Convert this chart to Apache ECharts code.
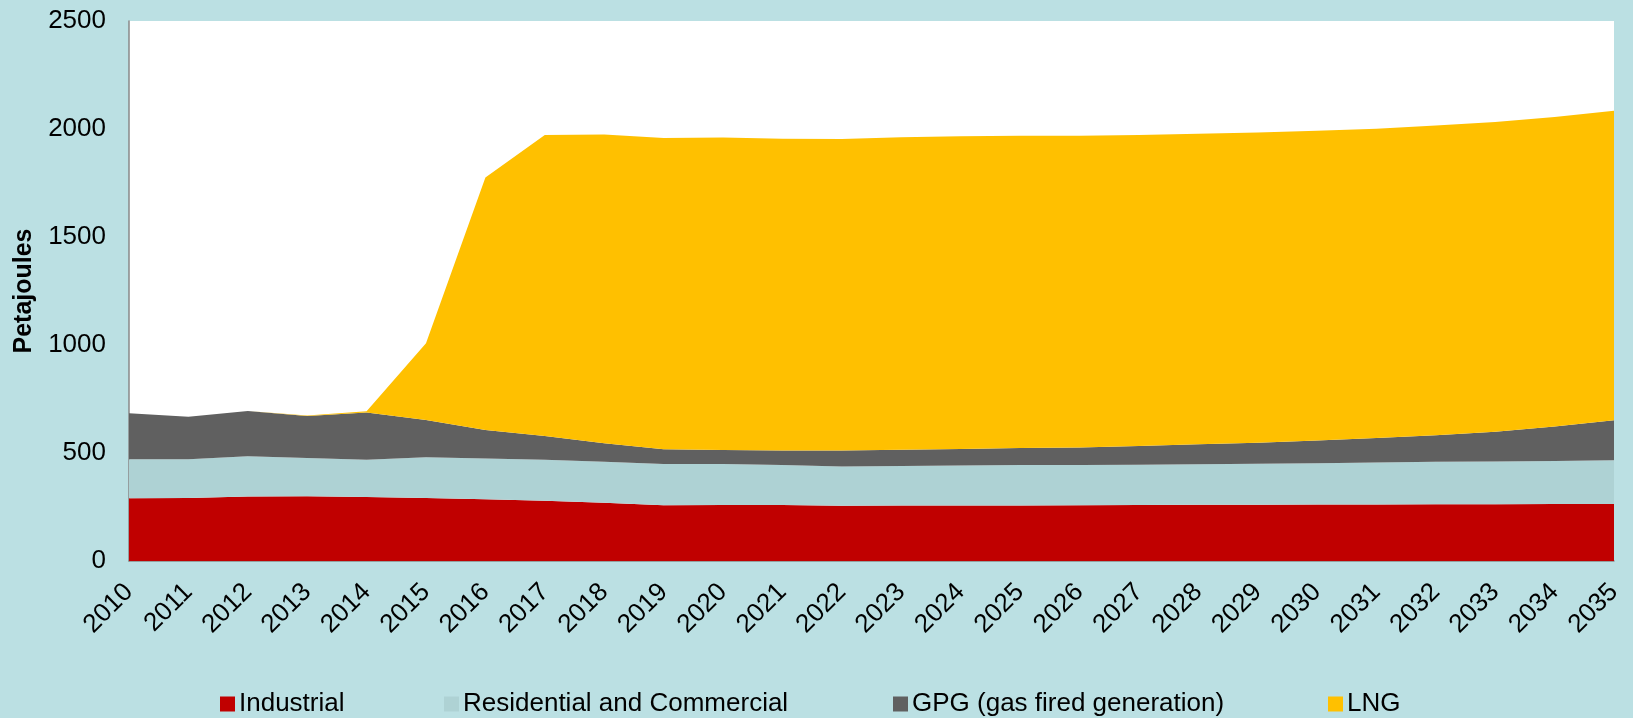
<!DOCTYPE html>
<html>
<head>
<meta charset="utf-8">
<script src="https://cdn.jsdelivr.net/npm/echarts@6/dist/echarts.min.js"></script>
<style>
html,body{margin:0;padding:0;background:#BBE0E3;}
#chart{width:1633px;height:718px;}
</style>
</head>
<body>
<div id="chart"></div>
<script>
const years = ['2010','2011','2012','2013','2014','2015','2016','2017','2018','2019','2020','2021','2022','2023','2024','2025','2026','2027','2028','2029','2030','2031','2032','2033','2034','2035'];
const industrial = [290,292,299,300,296,292,286,279,270,258,259,259,256,257,257,257,258,259,260,260,261,262,263,263,264,264];
const residential = [181,179,186,177,173,188,188,190,190,191,190,185,182,183,185,187,187,187,188,190,192,194,196,198,199,202];
const gpg = [213,197,209,194,219,173,132,110,85,68,65,68,73,75,76,79,81,86,92,98,105,113,123,137,160,186];
const lng = [0,0,0,3,5,355,1169,1393,1429,1441,1447,1443,1443,1447,1449,1446,1443,1440,1438,1436,1434,1432,1434,1434,1433,1433];
const yTicks = [0,500,1000,1500,2000,2500];

const names = ['Industrial','Residential and Commercial','GPG (gas fired generation)','LNG'];
const colors = ['#C00000','#AED2D4','#606060','#FFC000'];
const values = [industrial, residential, gpg, lng];
const legendLeft = [215, 439, 888, 1323];

const font = 'Liberation Sans, Arial, sans-serif';
const chart = echarts.init(document.getElementById('chart'), null, {renderer:'canvas'});
chart.setOption({
  backgroundColor: '#BBE0E3',
  animation: false,
  grid: {left:129, right:19, top:21, bottom:157, show:true, backgroundColor:'#FFFFFF', borderWidth:0, containLabel:false},
  xAxis: {
    type:'category', data: years, boundaryGap:false,
    axisLine:{show:true, lineStyle:{color:'#898989', width:1.5}},
    axisTick:{show:false},
    axisLabel:{rotate:45, fontSize:26, color:'#000', fontFamily:font, margin:27, interval:0},
    splitLine:{show:false}
  },
  yAxis: {
    type:'value', min:yTicks[0], max:yTicks[yTicks.length-1], interval:500,
    name:'Petajoules', nameLocation:'middle', nameGap:92,
    nameTextStyle:{fontSize:25, fontWeight:'bold', color:'#000', fontFamily:font},
    axisLine:{show:true, lineStyle:{color:'#898989', width:1.5}},
    axisTick:{show:false},
    axisLabel:{fontSize:26, color:'#000', fontFamily:font, margin:23, formatter: v => String(v)},
    splitLine:{show:false}
  },
  legend: names.map((n,i)=>({
    data:[n], left:legendLeft[i], top:686, itemWidth:15, itemHeight:15,
    icon:'rect', textStyle:{fontSize:26, color:'#000', fontFamily:font, padding:[0,0,0,-1]}
  })),
  series: names.map((n,i)=>({
    name:n, type:'line', stack:'total', data: values[i],
    symbol:'none', lineStyle:{width:0, color:colors[i]},
    itemStyle:{color:colors[i]},
    areaStyle:{color:colors[i], opacity:1}
  }))
});
</script>
</body>
</html>
